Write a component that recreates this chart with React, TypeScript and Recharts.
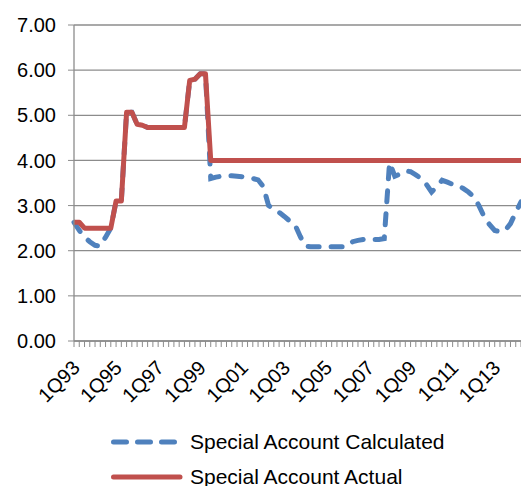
import React from "react";
import { LineChart, Line, XAxis, YAxis, CartesianGrid, Legend } from "recharts";

// quarterly labels 1Q93 .. 2Q14
const START_YEAR = 1993;
const N_QUARTERS = 86;
const quarters: string[] = [];
for (let i = 0; i < N_QUARTERS; i++) {
  const yr = START_YEAR + Math.floor(i / 4);
  quarters.push(`${(i % 4) + 1}Q${String(yr % 100).padStart(2, "0")}`);
}

const calculated = [
  2.63, 2.45, 2.3, 2.2, 2.12, 2.1, 2.3, 2.5, 3.1, 3.1,
  5.07, 5.07, 4.8, 4.78, 4.73, 4.73, 4.73, 4.73, 4.73, 4.73,
  4.73, 4.73, 5.77, 5.8, 5.92, 5.92, 3.6, 3.63, 3.65, 3.66,
  3.66, 3.65, 3.64, 3.62, 3.6, 3.57, 3.42, 3.0, 2.92, 2.85,
  2.76, 2.66, 2.58, 2.32, 2.1, 2.09, 2.09, 2.09, 2.09, 2.09,
  2.09, 2.09, 2.1, 2.2, 2.23, 2.25, 2.25, 2.25, 2.25, 2.27,
  3.95, 3.65, 3.7, 3.77, 3.75, 3.68, 3.6, 3.47, 3.3, 3.42,
  3.56, 3.52, 3.47, 3.45, 3.38, 3.3, 3.2, 3.0, 2.75, 2.58,
  2.45, 2.42, 2.45, 2.6, 2.85, 3.08,
];

const actual = [
  2.63, 2.63, 2.5, 2.5, 2.5, 2.5, 2.5, 2.5, 3.1, 3.1,
  5.07, 5.07, 4.8, 4.78, 4.73, 4.73, 4.73, 4.73, 4.73, 4.73,
  4.73, 4.73, 5.77, 5.8, 5.92, 5.92, 4.0, 4.0, 4.0, 4.0,
  4.0, 4.0, 4.0, 4.0, 4.0, 4.0, 4.0, 4.0, 4.0, 4.0,
  4.0, 4.0, 4.0, 4.0, 4.0, 4.0, 4.0, 4.0, 4.0, 4.0,
  4.0, 4.0, 4.0, 4.0, 4.0, 4.0, 4.0, 4.0, 4.0, 4.0,
  4.0, 4.0, 4.0, 4.0, 4.0, 4.0, 4.0, 4.0, 4.0, 4.0,
  4.0, 4.0, 4.0, 4.0, 4.0, 4.0, 4.0, 4.0, 4.0, 4.0,
  4.0, 4.0, 4.0, 4.0, 4.0, 4.0,
];

const yTicks = [0, 1, 2, 3, 4, 5, 6, 7];

const data = quarters.map((q, i) => ({
  quarter: q,
  calculated: calculated[i],
  actual: actual[i],
}));

const BLUE = "#4F81BD";
const RED = "#C0504D";
const GRID = "#8C8C8C";
const FONT = '"Liberation Sans", Arial, sans-serif';

const QuarterTick = (props: any) => {
  const { x, y, payload, index } = props;
  if (index % 8 !== 0) return null;
  const tx = x + 7;
  const ty = y + 20;
  return (
    <text
      x={tx}
      y={ty}
      transform={`rotate(-45, ${tx}, ${ty})`}
      textAnchor="end"
      fontSize={20}
      fontFamily={FONT}
      fill="#000"
    >
      {payload.value}
    </text>
  );
};

const legendRows = [
  { label: "Special Account Calculated", color: BLUE, dash: "13 11" },
  { label: "Special Account Actual", color: RED, dash: undefined },
];

const LegendBox = () => (
  <div style={{ fontFamily: FONT, fontSize: 21, color: "#000" }}>
    {legendRows.map((r) => (
      <div key={r.label} style={{ display: "flex", alignItems: "center", height: 35 }}>
        <svg width={79} height={10} style={{ display: "block" }}>
          <line
            x1={2.5}
            x2={69}
            y1={5}
            y2={5}
            stroke={r.color}
            strokeWidth={5}
            strokeLinecap="round"
            strokeDasharray={r.dash}
          />
        </svg>
        <span style={{ whiteSpace: "nowrap" }}>{r.label}</span>
      </div>
    ))}
  </div>
);

export default function App() {
  return (
    <div style={{ position: "absolute", left: 0, top: 0, width: 521, height: 486, overflow: "hidden" }}>
      <LineChart
        width={521}
        height={486}
        data={data}
        margin={{ top: 25, right: 0, left: 0, bottom: 0 }}
      >
        <CartesianGrid vertical={false} stroke={GRID} strokeWidth={1.3} />
        <XAxis
          dataKey="quarter"
          interval={0}
          height={145}
          tickSize={6}
          tickMargin={2}
          tick={<QuarterTick />}
          axisLine={{ stroke: GRID, strokeWidth: 1.3 }}
          tickLine={{ stroke: GRID }}
        />
        <YAxis
          width={74}
          domain={[0, 7]}
          ticks={yTicks}
          interval={0}
          tickFormatter={(v: number) => v.toFixed(2)}
          tickSize={6}
          tickMargin={12}
          tick={{ fontSize: 20, fontFamily: FONT, fill: "#000" }}
          axisLine={{ stroke: GRID, strokeWidth: 1.3 }}
          tickLine={{ stroke: GRID }}
        />
        <Legend
          layout="horizontal"
          verticalAlign="middle"
          align="center"
          wrapperStyle={{ top: 424, left: 111, width: "auto" }}
          content={<LegendBox />}
        />
        <Line
          dataKey="calculated"
          name="Special Account Calculated"
          stroke={BLUE}
          strokeWidth={5}
          strokeDasharray="11 12"
          strokeLinecap="round"
          dot={false}
          isAnimationActive={false}
        />
        <Line
          dataKey="actual"
          name="Special Account Actual"
          stroke={RED}
          strokeWidth={5}
          strokeLinejoin="round"
          dot={false}
          isAnimationActive={false}
        />
      </LineChart>
    </div>
  );
}
